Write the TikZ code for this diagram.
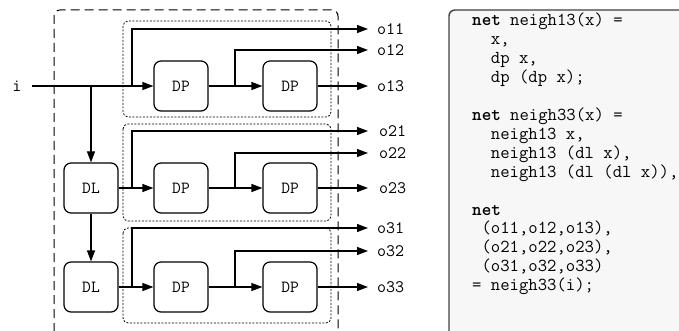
\documentclass[tikz,border=0pt]{standalone}
\usepackage{fontspec}
\usetikzlibrary{arrows.meta}
\begin{document}
\begin{tikzpicture}[x=1pt,y=-1pt,
  blk/.style={draw, line width=1.2pt, rounded corners=7pt, minimum width=54pt, minimum height=50pt, inner sep=0pt, font=\ttfamily\fontsize{17}{20}\selectfont},
  wire/.style={line width=1.2pt},
  arr/.style={wire, -{Triangle[length=11pt,width=8pt]}},
  lbl/.style={font=\ttfamily\fontsize{17.5}{20}\selectfont, anchor=west, inner sep=0pt},
  outer/.style={draw, line width=1pt, dash pattern=on 9pt off 5pt, rounded corners=6pt},
  grp/.style={draw, line width=0.8pt, dash pattern=on 2pt off 1.5pt, rounded corners=5pt},
  codeln/.style={font=\ttfamily\fontsize{18.2}{20}\selectfont, anchor=base west, inner sep=0pt},
  codebox/.style={draw=black!75, line width=1.4pt, rounded corners=6pt, fill=black!3}
]
\path[use as bounding box] (0,0) rectangle (679,331);
\clip (0,0) rectangle (679,331);

% code panel
\draw[codebox] (449,10) rectangle (720,360);
\def\lh{18.9}
\node[codeln] (c1) at (472,26) {\textbf{net} neigh13(x) =};
\node[codeln] (c2) at (472,26+1*\lh) {\phantom{xx}x,};
\node[codeln] (c3) at (472,26+2*\lh) {\phantom{xx}dp x,};
\node[codeln] (c4) at (472,26+3*\lh) {\phantom{xx}dp (dp x);};
\node[codeln] (c6) at (472,26+5*\lh) {\textbf{net} neigh33(x) =};
\node[codeln] (c7) at (472,26+6*\lh) {\phantom{xx}neigh13 x,};
\node[codeln] (c8) at (472,26+7*\lh) {\phantom{xx}neigh13 (dl x),};
\node[codeln] (c9) at (472,26+8*\lh) {\phantom{xx}neigh13 (dl (dl x)),};
\node[codeln] (c11) at (472,26+10*\lh) {\textbf{net}};
\node[codeln] (c12) at (472,26+11*\lh) {\phantom{x}(o11,o12,o13),};
\node[codeln] (c13) at (472,26+12*\lh) {\phantom{x}(o21,o22,o23),};
\node[codeln] (c14) at (472,26+13*\lh) {\phantom{x}(o31,o32,o33)};
\node[codeln] (c15) at (472,26+14*\lh) {= neigh33(i);};

% frames
\draw[outer] (54,360) -- (54,10) -- (338,10) -- (338,360);
\draw[grp] (123,21) rectangle (331,117);
\draw[grp] (123,124) rectangle (331,221);
\draw[grp] (123,228) rectangle (331,323);

% blocks
\node[blk] (dp11) at (181,86) {DP};
\node[blk] (dp12) at (290,86) {DP};
\node[blk] (dl2) at (91,188) {DL};
\node[blk] (dp21) at (181,188) {DP};
\node[blk] (dp22) at (290,188) {DP};
\node[blk] (dl3) at (91,287) {DL};
\node[blk] (dp31) at (181,287) {DP};
\node[blk] (dp32) at (290,287) {DP};

% labels
\node[lbl, anchor=center] (i) at (17,86) {i};
\node[lbl] (o11) at (377,29) {o11};
\node[lbl] (o12) at (377,50) {o12};
\node[lbl] (o13) at (377,86) {o13};
\node[lbl] (o21) at (379,131) {o21};
\node[lbl] (o22) at (379,153) {o22};
\node[lbl] (o23) at (379,188) {o23};
\node[lbl] (o31) at (377,228) {o31};
\node[lbl] (o32) at (377,251) {o32};
\node[lbl] (o33) at (377,287) {o33};

% coordinates
\coordinate (istart) at (32,86);
\coordinate (b1) at (91,86);
\coordinate (s1) at (132,86);
\coordinate (s2) at (132,188);
\coordinate (s3) at (132,287);
\coordinate (m1) at (235,86);
\coordinate (m2) at (235,188);
\coordinate (m3) at (235,287);

% wires
\draw[arr] (istart) -- (dp11.west);
\draw[arr] (b1) -- (dl2.north);
\draw[arr] (dl2.south) -- (dl3.north);
\draw[arr] (dl2.east) -- (dp21.west);
\draw[arr] (dl3.east) -- (dp31.west);
\draw[arr] (dp11.east) -- (dp12.west);
\draw[arr] (dp21.east) -- (dp22.west);
\draw[arr] (dp31.east) -- (dp32.west);
\draw[arr] (s1) |- ([xshift=-9pt]o11.west);
\draw[arr] (m1) |- ([xshift=-9pt]o12.west);
\draw[arr] (dp12.east) -- ([xshift=-9pt]o13.west);
\draw[arr] (s2) |- ([xshift=-11pt]o21.west);
\draw[arr] (m2) |- ([xshift=-11pt]o22.west);
\draw[arr] (dp22.east) -- ([xshift=-11pt]o23.west);
\draw[arr] (s3) |- ([xshift=-9pt]o31.west);
\draw[arr] (m3) |- ([xshift=-9pt]o32.west);
\draw[arr] (dp32.east) -- ([xshift=-9pt]o33.west);
\end{tikzpicture}
\end{document}
